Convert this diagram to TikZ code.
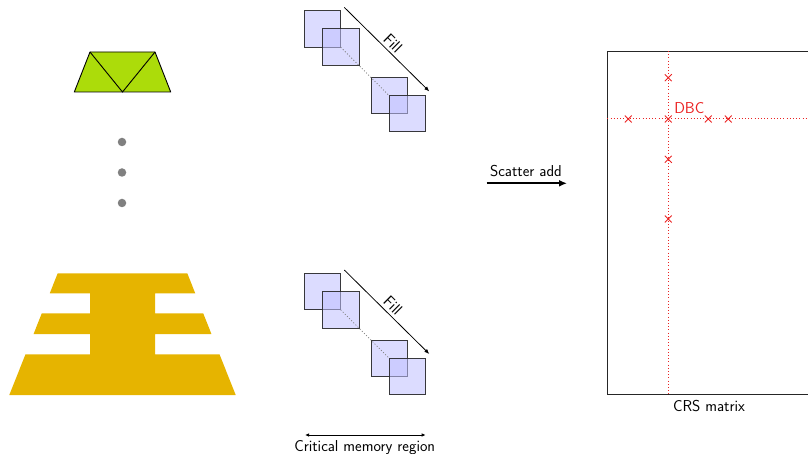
\documentclass[tikz,border=0pt]{standalone}
\usetikzlibrary{arrows.meta,shapes.misc}
\definecolor{limeg}{RGB}{172,220,10}
\definecolor{goldy}{RGB}{230,180,0}
\definecolor{dbcred}{RGB}{235,35,35}
\begin{document}
\begin{tikzpicture}[x=1pt,y=-1pt,
  font=\sffamily\fontsize{15.8}{18}\selectfont,
  sq/.style={rectangle, draw=black!85, line width=0.9pt, fill=blue!25, fill opacity=0.55, draw opacity=0.9, minimum size=36.5pt, inner sep=0pt},
  fillarrow/.style={line width=0.8pt, -{Latex[length=5pt,width=4pt]}},
  dotlink/.style={draw=black!50, line width=0.8pt, dash pattern=on 1pt off 2pt},
  gdot/.style={circle, fill=black!50, minimum size=8.5pt, inner sep=0pt},
  xmark/.style={cross out, draw=dbcred, line width=0.9pt, minimum size=6pt, inner sep=0pt},
  redline/.style={draw=dbcred, line width=1pt, dash pattern=on 1pt off 2.2pt}]
\useasboundingbox (0,0) rectangle (808,454);

% green element
\draw[fill=limeg, line width=0.9pt, line join=round] (90,52) -- (155,52) -- (170.7,92) -- (74.3,92) -- cycle;
\draw[line width=0.9pt] (90,52) -- (122.5,92) -- (155,52);

% dots
\node[gdot] (d1) at (122,142) {};
\node[gdot] (d2) at (122,172.5) {};
\node[gdot] (d3) at (122,203) {};

% gold shape
\fill[goldy] (57.7,273.3) -- (187.3,273.3) -- (195.25,293.3) -- (155,293.3) -- (155,313.3) -- (203.2,313.3) -- (211.44,334) -- (155,334) -- (155,354.3) -- (219.5,354.3) -- (235.7,395) -- (9.3,395) -- (25.5,354.3) -- (90,354.3) -- (90,334) -- (33.56,334) -- (41.8,313.3) -- (90,313.3) -- (90,293.3) -- (49.75,293.3) -- cycle;

% top squares
\node[sq] (a1) at (322.6,29) {};
\node[sq] (a2) at (340.7,47.2) {};
\node[sq] (a3) at (389.2,95.7) {};
\node[sq] (a4) at (407.5,113.7) {};
\draw[dotlink] (a2.center) -- (a3.center);
\coordinate (fa1) at (344.3,7.4);
\coordinate (fa2) at (429.3,91.4);
\draw[fillarrow] (fa1) -- node[midway, above, sloped, inner sep=3pt] {Fill} (fa2);

% bottom squares
\node[sq] (b1) at (322.6,291.6) {};
\node[sq] (b2) at (340.7,309.8) {};
\node[sq] (b3) at (389.2,358.3) {};
\node[sq] (b4) at (407.5,376.3) {};
\draw[dotlink] (b2.center) -- (b3.center);
\coordinate (fb1) at (344.3,270);
\coordinate (fb2) at (429.3,354);
\draw[fillarrow] (fb1) -- node[midway, above, sloped, inner sep=3pt] {Fill} (fb2);

% critical memory region
\coordinate (cm1) at (305,435);
\coordinate (cm2) at (425.7,435);
\draw[line width=0.8pt, {Latex[length=4pt,width=3.5pt]}-{Latex[length=4pt,width=3.5pt]}] (cm1) -- (cm2);
\node (cmr) at (364.7,447.5) {Critical memory region};

% scatter add
\coordinate (sa1) at (486.7,183.3);
\coordinate (sa2) at (567,183.3);
\draw[line width=2.2pt, -{Latex[length=8pt,width=7pt]}] (sa1) -- (sa2);
\node (sat) at (526,171) {Scatter add};

% CRS matrix
\node[rectangle, draw=black!85, line width=0.9pt, minimum width=204pt, minimum height=343pt, inner sep=0pt] (crs) at (709,222.5) {};
\node (crsl) at (709,406) {CRS matrix};
\coordinate (v1) at (668.3,51);
\coordinate (v2) at (668.3,394);
\coordinate (h1) at (607.3,119);
\coordinate (h2) at (811,119);
\draw[redline] (v1) -- (v2);
\draw[redline] (h1) -- (h2);
\node[xmark] (x1) at (668.3,77.7) {};
\node[xmark] (x2) at (668.3,119) {};
\node[xmark] (x3) at (668.3,159.3) {};
\node[xmark] (x4) at (668.3,219) {};
\node[xmark] (x5) at (628.3,119) {};
\node[xmark] (x6) at (708.3,119) {};
\node[xmark] (x7) at (728.3,119) {};
\node[text=dbcred] (dbc) at (689.3,108) {DBC};
\end{tikzpicture}
\end{document}
